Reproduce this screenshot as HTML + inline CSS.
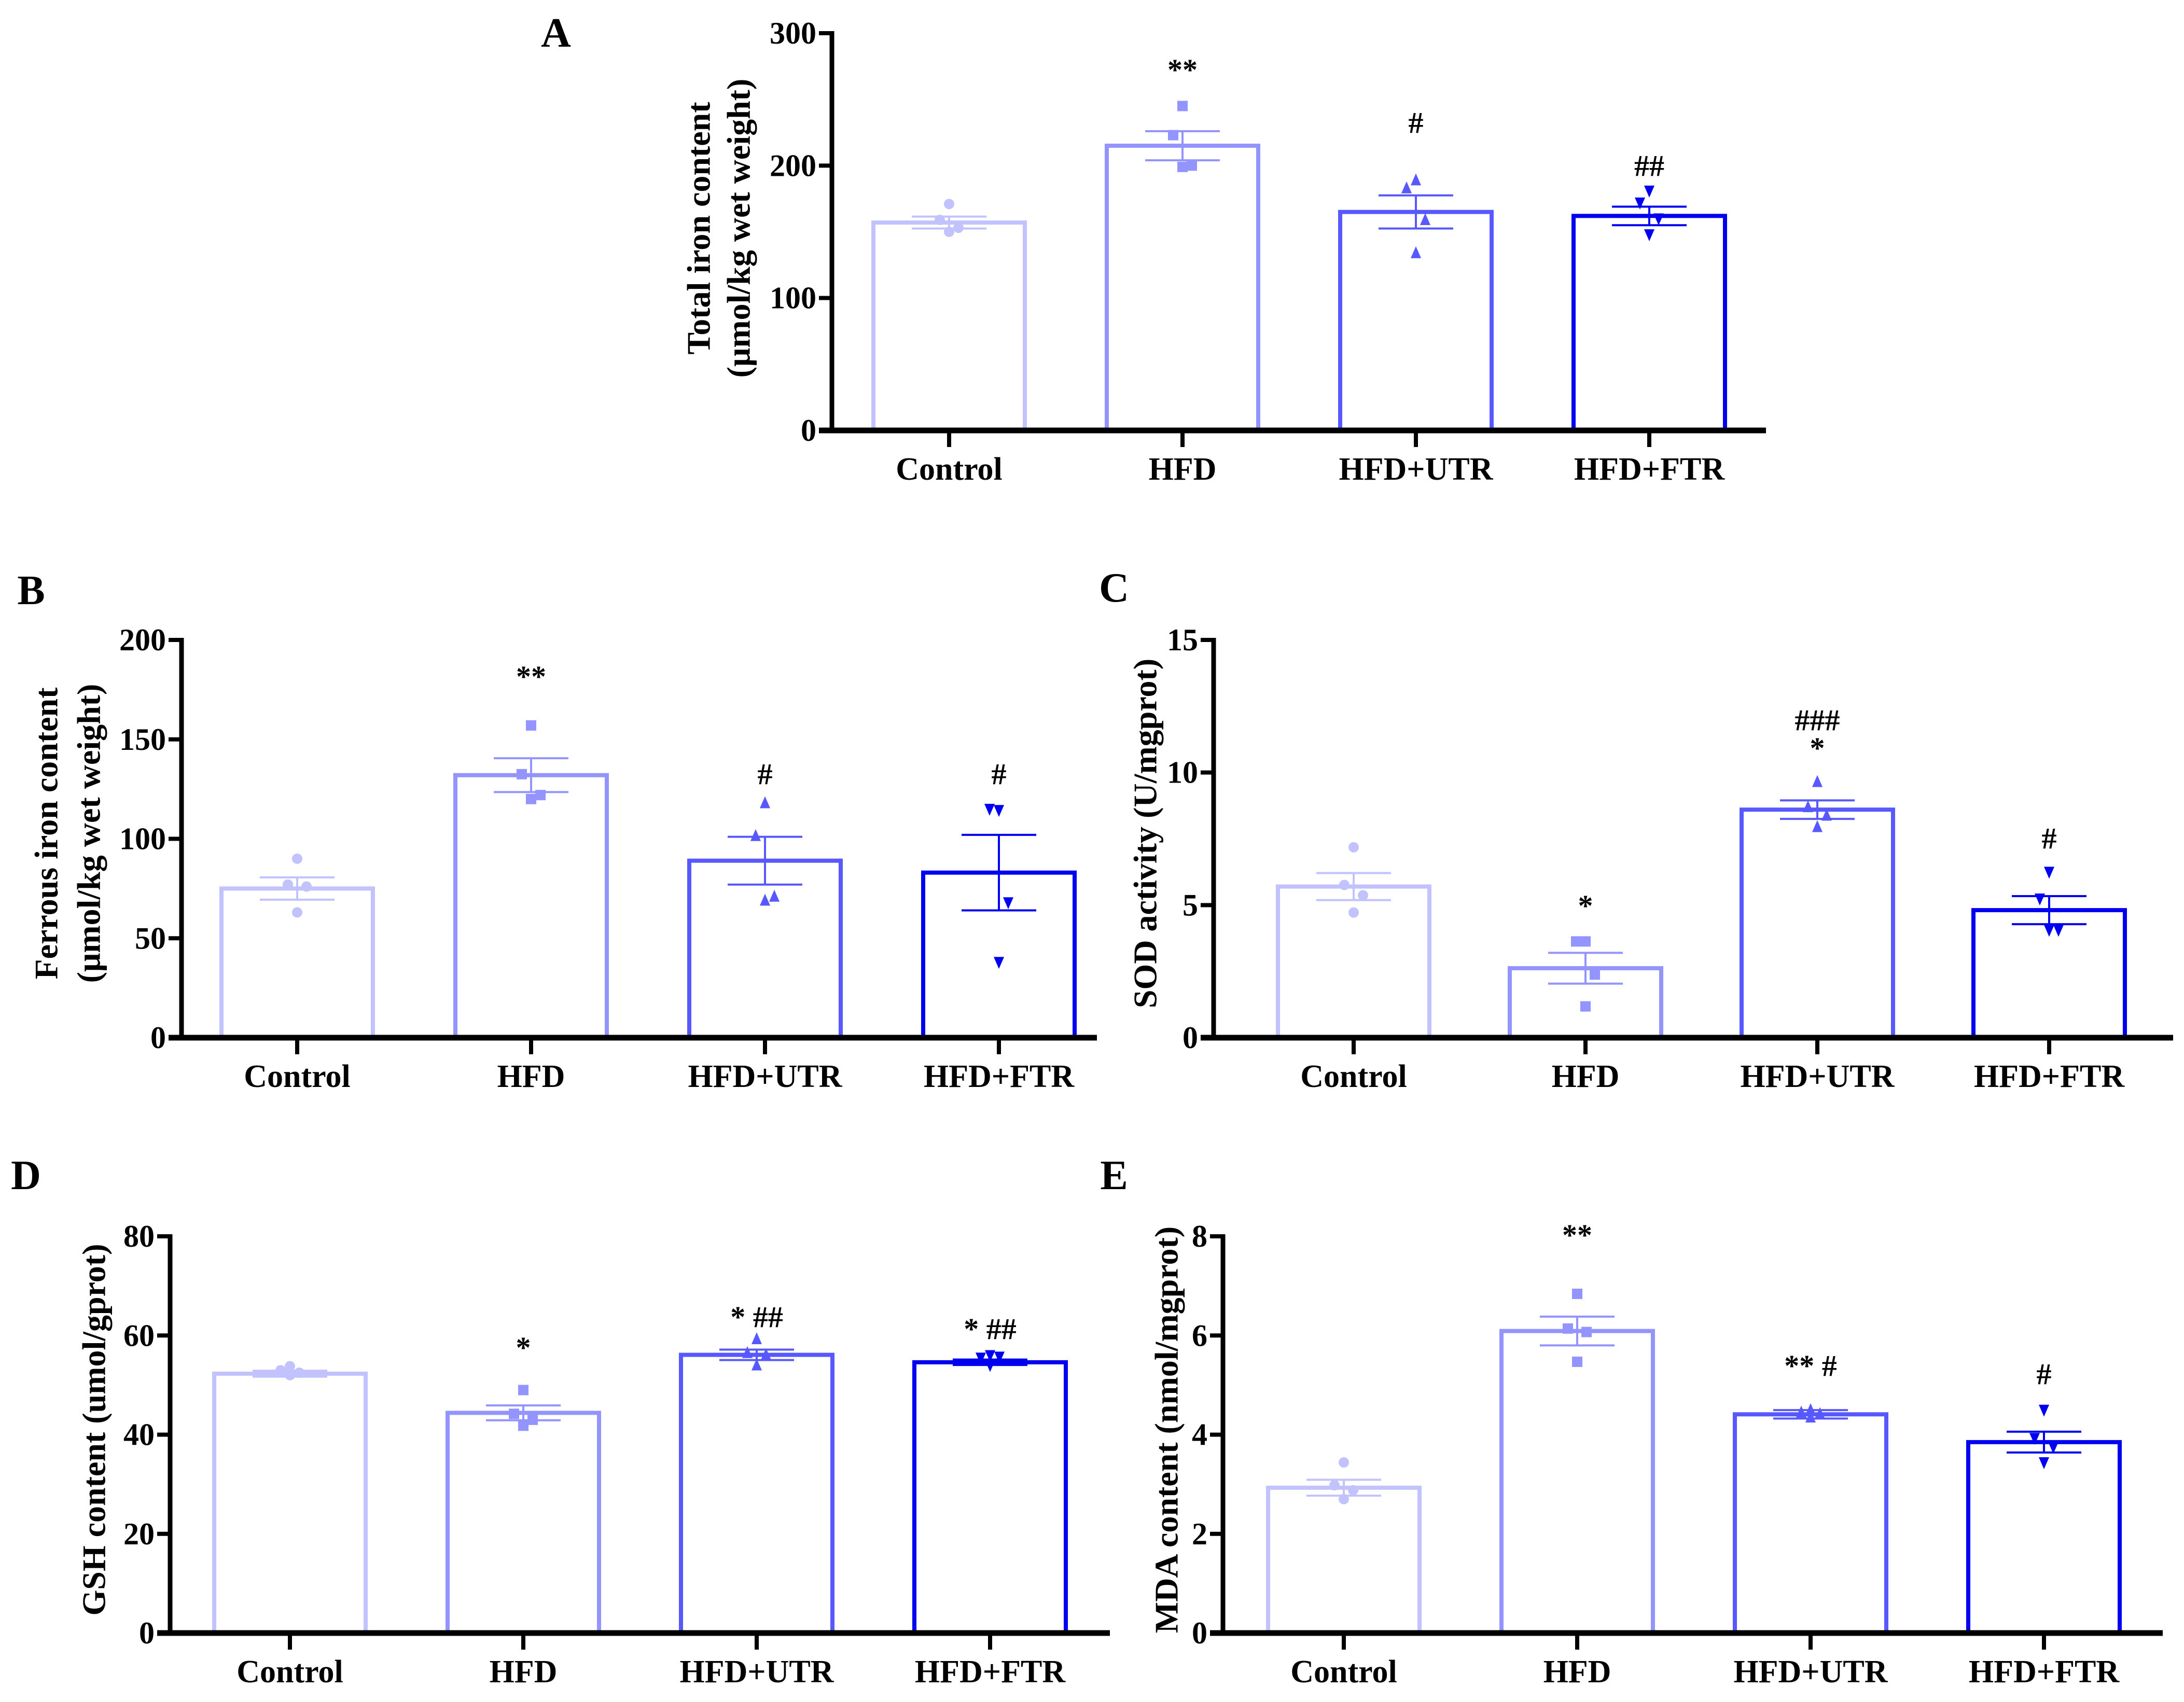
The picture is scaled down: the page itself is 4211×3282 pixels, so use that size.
<!DOCTYPE html>
<html><head><meta charset="utf-8"><style>
html,body{margin:0;padding:0;background:#fff;}
svg{display:block;}
text{font-family:"Liberation Serif",serif;font-weight:bold;fill:#000;}
</style></head><body>
<svg id="fig" width="4211" height="3282" viewBox="0 0 4211 3282" xmlns="http://www.w3.org/2000/svg">
<text x="1072" y="90" font-size="80" text-anchor="middle">A</text>
<text x="60" y="1165" font-size="80" text-anchor="middle">B</text>
<text x="2148" y="1160" font-size="80" text-anchor="middle">C</text>
<text x="50" y="2293" font-size="80" text-anchor="middle">D</text>
<text x="2148" y="2293" font-size="80" text-anchor="middle">E</text>
</svg>
<script>
const categories = ["Control","HFD","HFD+UTR","HFD+FTR"];
const colors = ["#c2c2ff","#9494ff","#5858ff","#0000f0"];

const meanA = [157,215,165,162];
const semA = [4.5,11,12.5,7];
const ptsA = [[171,159,153,150],[245,223,200,199],[189,183,159,134],[181,172,160,148]];
const sigA = ["","**","#","##"];
const ticksA = [0,100,200,300];

const meanB = [75,132,89,83];
const semB = [5.6,8.5,12,19];
const ptsB = [[90,77,76,63],[157,132.5,122,120],[118,101.5,71,69],[114.4,115,68,38]];
const sigB = ["","**","#","#"];
const ticksB = [0,50,100,150,200];

const meanC = [5.7,2.62,8.6,4.81];
const semC = [0.51,0.58,0.35,0.53];
const ptsC = [[7.18,5.76,5.37,4.72],[3.63,3.63,2.38,1.18],[9.65,8.7,8.38,7.95],[6.25,5.24,4.06,4.06]];
const sigC = ["","*","*","#"];
const sigC2 = ["","","###",""];
const ticksC = [0,5,10,15];

const meanD = [52.3,44.4,56.1,54.6];
const semD = [0.6,1.5,1.05,0.55];
const ptsD = [[53.8,53,52.5,52],[49,44.2,43,41.8],[59.3,56.5,56.1,54],[56,55.5,55.7,54]];
const sigD = ["","*","*  ##","*  ##"];
const ticksD = [0,20,40,60,80];

const meanE = [2.93,6.09,4.41,3.85];
const semE = [0.16,0.29,0.085,0.21];
const ptsE = [[3.44,2.98,2.88,2.70],[6.84,6.14,6.07,5.47],[4.5,4.45,4.42,4.35],[4.5,3.93,3.75,3.44]];
const sigE = ["","**","**  #","#"];
const ticksE = [0,2,4,6,8];

const NS = "http://www.w3.org/2000/svg";
const svg = document.getElementById("fig");
function mk(tag, attrs, parent){
  const e = document.createElementNS(NS, tag);
  for (const k in attrs) e.setAttribute(k, attrs[k]);
  (parent||svg).appendChild(e);
  return e;
}

const panels = [
  {id:"a", ax:1604, xend:3405, top:64, bot:830, first:226, sp:450, mean:meanA, sem:semA, pts:ptsA, sig:sigA, sig2:null, ticks:ticksA, sigY:[0,134,236,319], sig2Y:null,
   title:["Total iron content","(μmol/kg wet weight)"], titleX:[1354,1431], titleY:440},
  {id:"b", ax:350, xend:2115, top:1234, bot:2001, first:223, sp:451, mean:meanB, sem:semB, pts:ptsB, sig:sigB, sig2:null, ticks:ticksB, sigY:[0,1304,1492,1492], sig2Y:null,
   title:["Ferrous iron content","(μmol/kg wet weight)"], titleX:[96,178], titleY:1607},
  {id:"c", ax:2340, xend:4190, top:1234, bot:2001, first:270, sp:447, mean:meanC, sem:semC, pts:ptsC, sig:sigC, sig2:sigC2, ticks:ticksC, sigY:[0,1746,1442,1616], sig2Y:[0,0,1388,0],
   title:["SOD activity (U/mgprot)"], titleX:[2215], titleY:1607},
  {id:"d", ax:328, xend:2140, top:2384, bot:3149, first:231, sp:450, mean:meanD, sem:semD, pts:ptsD, sig:sigD, sig2:null, ticks:ticksD, sigY:[0,2598,2539,2562], sig2Y:null,
   title:["GSH content (umol/gprot)"], titleX:[188], titleY:2757},
  {id:"e", ax:2358, xend:4170, top:2384, bot:3149, first:233, sp:450, mean:meanE, sem:semE, pts:ptsE, sig:sigE, sig2:null, ticks:ticksE, sigY:[0,2381,2633,2649], sig2Y:null,
   title:["MDA content (nmol/mgprot)"], titleX:[2256], titleY:2757}
];
const jitter = [0,-18,18,0];

panels.forEach(p => {
  const g = mk("g", {});
  
  
  const vmax = p.ticks[p.ticks.length-1];
  const y = v => p.bot - (v / vmax) * (p.bot - p.top);
  const cx = i => p.ax + p.first + i * p.sp;
  const bw = 292;

  categories.forEach((c, i) => {
    const x = cx(i), col = colors[i];
    const bar = mk("rect", {x: x - bw/2, y: y(p.mean[i]), width: bw, height: p.bot - y(p.mean[i]), fill: "#fff", stroke: col, "stroke-width": 8}, g);
    
    
    const eg = mk("g", {stroke: col, "stroke-width": 4}, g);
    
    
    const hi = y(p.mean[i] + p.sem[i]), lo = y(p.mean[i] - p.sem[i]);
    mk("line", {x1: x, x2: x, y1: hi, y2: lo}, eg);
    mk("line", {x1: x - 72, x2: x + 72, y1: hi, y2: hi}, eg);
    mk("line", {x1: x - 72, x2: x + 72, y1: lo, y2: lo}, eg);
    p.pts[i].forEach((v, k) => {
      const px = x + jitter[k], py = y(v);
      let m;
      if (i === 0) m = mk("circle", {cx: px, cy: py, r: 10, fill: col}, g);
      else if (i === 1) m = mk("rect", {x: px - 10, y: py - 10, width: 20, height: 20, fill: col}, g);
      else if (i === 2) m = mk("polygon", {points: `${px},${py-13} ${px-10},${py+10} ${px+10},${py+10}`, fill: col}, g);
      else m = mk("polygon", {points: `${px},${py+13} ${px-10},${py-10} ${px+10},${py-10}`, fill: col}, g);
      
      
    });
    if (p.sig[i]) {
      const t = mk("text", {x: x, y: p.sigY[i] + 20, "font-size": 58, "text-anchor": "middle", "xml:space": "preserve"}, g);
      t.textContent = p.sig[i];
      
      
    }
    if (p.sig2 && p.sig2[i]) {
      const t = mk("text", {x: x, y: p.sig2Y[i] + 20, "font-size": 58, "text-anchor": "middle"}, g);
      t.textContent = p.sig2[i];
      
      
    }
    mk("line", {x1: x, x2: x, y1: p.bot, y2: p.bot + 32, stroke: "#000", "stroke-width": 8}, g);
    const tl = mk("text", {x: x, y: p.bot + 95, "font-size": 62, "text-anchor": "middle"}, g);
    tl.textContent = c;
    
    
  });

  const ya = mk("line", {x1: p.ax, x2: p.ax, y1: p.top - 4, y2: p.bot + 5, stroke: "#000", "stroke-width": 9}, g);
  
  
  const xa = mk("line", {x1: p.ax - 25, x2: p.xend, y1: p.bot, y2: p.bot, stroke: "#000", "stroke-width": 11}, g);
  
  
  p.ticks.forEach(v => {
    mk("line", {x1: p.ax - 25, x2: p.ax, y1: y(v), y2: y(v), stroke: "#000", "stroke-width": 8}, g);
    const t = mk("text", {x: p.ax - 30, y: y(v) + 20, "font-size": 60, "text-anchor": "end"}, g);
    t.textContent = v;
    
    
  });
  p.title.forEach((s, k) => {
    const tx = p.titleX[k];
    const t = mk("text", {x: tx, y: p.titleY, "font-size": 64, "text-anchor": "middle", "dominant-baseline": "middle", transform: `rotate(-90 ${tx} ${p.titleY})`}, g);
    t.textContent = s;
    
    
  });
});
</script>
</body></html>
